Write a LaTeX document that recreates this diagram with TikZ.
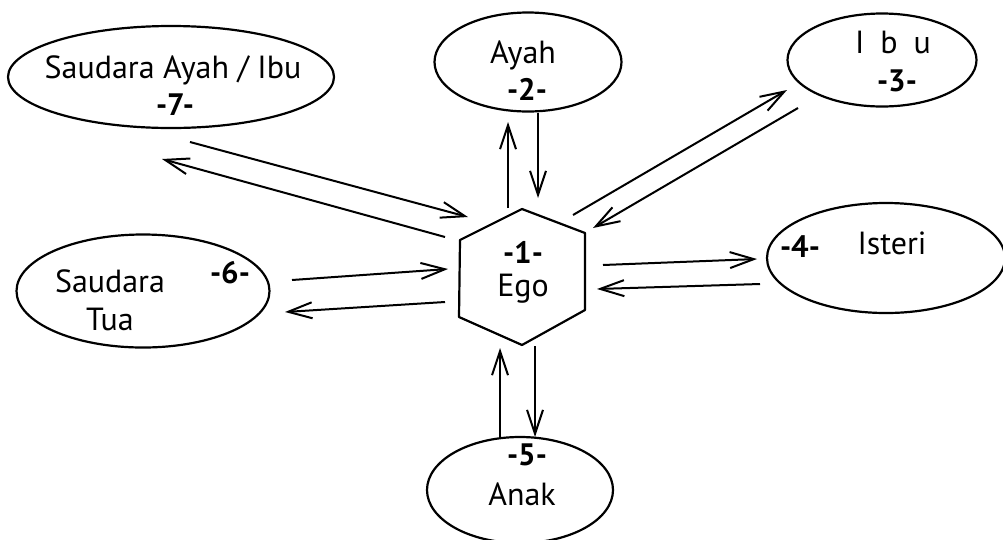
\documentclass[tikz,border=0pt]{standalone}
\usepackage{fontspec}
\setmainfont{PT Sans}
\usetikzlibrary{arrows.meta,shapes.geometric}
\begin{document}
\begin{tikzpicture}[x=1pt,y=-1pt,
  oval/.style={draw, ellipse, line width=2.2pt, inner sep=0pt},
  lbl/.style={anchor=base, inner sep=0pt, font=\fontsize{32}{36}\selectfont},
  num/.style={anchor=base, inner sep=0pt, font=\fontsize{31}{36}\selectfont\bfseries},
  link/.style={line width=2pt, -{Straight Barb[length=24pt,width=16pt,line width=2pt]}},
  hexline/.style={draw, line width=2.2pt, line join=round}
]
\useasboundingbox (0,0) rectangle (1003,539);

% ellipses
\node[oval, minimum width=326pt, minimum height=102pt] (sai) at (171,77) {};
\node[oval, minimum width=187pt, minimum height=99pt] (ayah) at (528,62) {};
\node[oval, minimum width=189pt, minimum height=93pt] (ibu) at (882,60) {};
\node[oval, minimum width=238pt, minimum height=110pt] (isteri) at (886,258) {};
\node[oval, minimum width=253pt, minimum height=113pt] (tua) at (143,291) {};
\node[oval, minimum width=186pt, minimum height=106pt] (anak) at (520,490) {};

% hexagon (Ego)
\coordinate (h1) at (522,209);
\coordinate (h2) at (585,233);
\coordinate (h3) at (585,310);
\coordinate (h4) at (522,345);
\coordinate (h5) at (459,317);
\coordinate (h6) at (460,240);
\path[hexline] (h1) -- (h2) -- (h3) -- (h4) -- (h5) -- (h6) -- cycle;

% texts
\node[lbl] (t7a) at (173,78) {Saudara Ayah / Ibu};
\node[num] (t7b) at (175,115) {-7-};
\node[lbl] (t2a) at (523,63) {Ayah};
\node[num] (t2b) at (527,100) {-2-};
\node[lbl] (t3a) at (893,53) {I\hspace{0.5em}b\hspace{0.5em}u};
\node[num] (t3b) at (897,91) {-3-};
\node[num] (t4a) at (800,257) {-4-};
\node[lbl] (t4b) at (892,254) {Isteri};
\node[lbl] (t6a) at (110,292) {Saudara};
\node[num] (t6b) at (230,283) {-6-};
\node[lbl] (t6c) at (110,330) {Tua};
\node[num] (t5a) at (527,465) {-5-};
\node[lbl] (t5b) at (522,505) {Anak};
\node[num] (ego1) at (523,263) {-1-};
\node[lbl] (ego) at (523,296) {Ego};

% connector end points
\coordinate (a1s) at (508,208); \coordinate (a1e) at (508,122);
\coordinate (a2s) at (538,113); \coordinate (a2e) at (538,198);
\coordinate (a3s) at (573,215); \coordinate (a3e) at (787,90);
\coordinate (a4s) at (798,108); \coordinate (a4e) at (593,228);
\coordinate (a5s) at (603,265); \coordinate (a5e) at (757,259);
\coordinate (a6s) at (760,284); \coordinate (a6e) at (597,289);
\coordinate (a7s) at (535,346); \coordinate (a7e) at (535,437);
\coordinate (a8s) at (500,438); \coordinate (a8e) at (500,348);
\coordinate (a9s) at (292,280); \coordinate (a9e) at (448,269);
\coordinate (a10s) at (445,302); \coordinate (a10e) at (285,312);
\coordinate (a11s) at (190,142); \coordinate (a11e) at (468,217);
\coordinate (a12s) at (445,237); \coordinate (a12e) at (162,159);

\draw[link] (a1s) -- (a1e);
\draw[link] (a2s) -- (a2e);
\draw[link] (a3s) -- (a3e);
\draw[link] (a4s) -- (a4e);
\draw[link] (a5s) -- (a5e);
\draw[link] (a6s) -- (a6e);
\draw[link] (a7s) -- (a7e);
\draw[link] (a8s) -- (a8e);
\draw[link] (a9s) -- (a9e);
\draw[link] (a10s) -- (a10e);
\draw[link] (a11s) -- (a11e);
\draw[link] (a12s) -- (a12e);
\end{tikzpicture}
\end{document}
